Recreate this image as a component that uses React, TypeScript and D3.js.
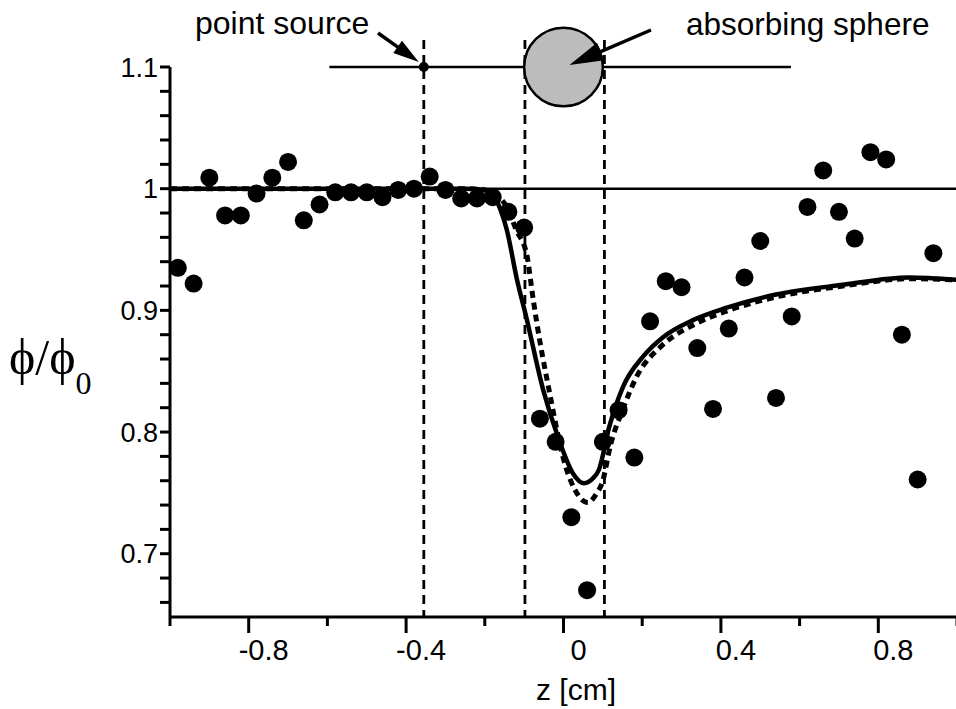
import React, { useEffect, useRef } from "react";
import * as d3 from "d3";

// measured points (z in cm, phi/phi0)
const zData = [
  -0.98, -0.94, -0.9, -0.86, -0.82, -0.78, -0.74, -0.7, -0.66, -0.62, -0.58, -0.54, -0.5,
  -0.46, -0.42, -0.38, -0.34, -0.3, -0.26, -0.22, -0.18, -0.14, -0.1, -0.06, -0.02, 0.02,
  0.06, 0.1, 0.14, 0.18, 0.22, 0.26, 0.3, 0.34, 0.38, 0.42, 0.46, 0.5, 0.54, 0.58, 0.62,
  0.66, 0.7, 0.74, 0.78, 0.82, 0.86, 0.9, 0.94,
];
const phiData = [
  0.935, 0.922, 1.009, 0.978, 0.978, 0.996, 1.009, 1.022, 0.974, 0.987, 0.997, 0.997, 0.997,
  0.993, 0.999, 1.0, 1.01, 0.999, 0.992, 0.992, 0.993, 0.981, 0.968, 0.811, 0.792, 0.73,
  0.67, 0.792, 0.818, 0.779, 0.891, 0.924, 0.919, 0.869, 0.819, 0.885, 0.927, 0.957, 0.828,
  0.895, 0.985, 1.015, 0.981, 0.959, 1.03, 1.024, 0.88, 0.761, 0.947,
];

// theory, solid
const solidZ = [
  -1, -0.5, -0.25, -0.2, -0.17, -0.144, -0.118, -0.095, -0.052, -0.012, 0.024, 0.052, 0.075,
  0.09, 0.116, 0.151, 0.202, 0.253, 0.329, 0.413, 0.54, 0.71, 0.878, 1,
];
const solidPhi = [
  1, 1, 1, 0.999, 0.99, 0.966, 0.925, 0.895, 0.835, 0.794, 0.766, 0.758, 0.762, 0.769, 0.804,
  0.837, 0.862, 0.878, 0.892, 0.902, 0.913, 0.921, 0.927, 0.925,
];

// theory, dashed
const dashZ = [
  -1, -0.5, -0.25, -0.2, -0.15, -0.12, -0.093, -0.077, -0.068, -0.037, 0.006, 0.03, 0.062,
  0.085, 0.098, 0.12, 0.15, 0.185, 0.25, 0.33, 0.42, 0.54, 0.71, 0.88, 1,
];
const dashPhi = [
  1, 1, 1, 0.999, 0.988, 0.966, 0.945, 0.909, 0.89, 0.835, 0.771, 0.752, 0.742, 0.75, 0.758,
  0.79, 0.818, 0.845, 0.871, 0.888, 0.9, 0.911, 0.92, 0.926, 0.925,
];

const xTicks = [-1, -0.8, -0.6, -0.4, -0.2, 0, 0.2, 0.4, 0.6, 0.8, 1];
const xLabels = [-0.8, -0.4, 0, 0.4, 0.8];
const yTicks = [
  0.66, 0.68, 0.7, 0.72, 0.74, 0.76, 0.78, 0.8, 0.82, 0.84, 0.86, 0.88, 0.9, 0.92, 0.94, 0.96,
  0.98, 1, 1.02, 1.04, 1.06, 1.08, 1.1,
];
const yLabels = [0.7, 0.8, 0.9, 1, 1.1];

// geometry of the sketch on top
const pointSourceZ = -0.355;
const sphereZ = 0;
const sphereRadius = 0.1;
const guideZ = [pointSourceZ, -0.098, 0.104];
const rodZ = [-0.595, 0.578];

const FONT = "Liberation Sans, Arial, Helvetica, sans-serif";

const App = () => {
  const ref = useRef<SVGSVGElement>(null);

  useEffect(() => {
    const svg = d3.select(ref.current);
    svg.selectAll("*").remove();

    const x = d3.scaleLinear().domain([-1, 1]).range([170, 957]);
    const y = d3.scaleLinear().domain([0.648, 1.1]).range([617, 67]);
    const top = y(1.1);

    // reference line at 1
    svg.append("line")
      .attr("x1", x(-1)).attr("x2", x(1))
      .attr("y1", y(1)).attr("y2", y(1))
      .attr("stroke", "#000").attr("stroke-width", 2.5);

    // vertical guides
    svg.selectAll(".guide")
      .data(guideZ)
      .join("line")
      .attr("class", "guide")
      .attr("x1", (d) => x(d)).attr("x2", (d) => x(d))
      .attr("y1", 40).attr("y2", y(0.648))
      .attr("stroke", "#000").attr("stroke-width", 2.8)
      .attr("stroke-dasharray", "9,6");

    const line = d3.line<[number, number]>()
      .x((d) => x(d[0]))
      .y((d) => y(d[1]))
      .curve(d3.curveMonotoneX);

    svg.append("path")
      .attr("d", line(dashZ.map((z, i) => [z, dashPhi[i]]) as [number, number][]))
      .attr("fill", "none").attr("stroke", "#000").attr("stroke-width", 5)
      .attr("stroke-dasharray", "7,5");

    svg.append("path")
      .attr("d", line(solidZ.map((z, i) => [z, solidPhi[i]]) as [number, number][]))
      .attr("fill", "none").attr("stroke", "#000").attr("stroke-width", 4.5);

    svg.selectAll(".dot")
      .data(zData.map((z, i) => [z, phiData[i]]))
      .join("circle")
      .attr("class", "dot")
      .attr("cx", (d) => x(d[0]))
      .attr("cy", (d) => y(d[1]))
      .attr("r", 9)
      .attr("fill", "#000");

    // axes
    svg.append("line")
      .attr("x1", x(-1)).attr("x2", x(1))
      .attr("y1", y(0.648)).attr("y2", y(0.648))
      .attr("stroke", "#000").attr("stroke-width", 3);
    svg.append("line")
      .attr("x1", x(-1)).attr("x2", x(-1))
      .attr("y1", top).attr("y2", y(0.648))
      .attr("stroke", "#000").attr("stroke-width", 3);

    svg.selectAll(".xtick")
      .data(xTicks)
      .join("line")
      .attr("class", "xtick")
      .attr("x1", (d) => x(d)).attr("x2", (d) => x(d))
      .attr("y1", y(0.648))
      .attr("y2", (d) => y(0.648) + (xLabels.includes(d) ? 16 : 9))
      .attr("stroke", "#000").attr("stroke-width", 3);

    svg.selectAll(".xlabel")
      .data(xLabels)
      .join("text")
      .attr("class", "xlabel")
      .attr("x", (d) => x(d) + 15)
      .attr("y", 660)
      .attr("text-anchor", "middle")
      .attr("font-family", FONT).attr("font-size", 29)
      .text((d) => String(d));

    svg.selectAll(".ytick")
      .data(yTicks)
      .join("line")
      .attr("class", "ytick")
      .attr("x1", x(-1) - 10).attr("x2", x(-1))
      .attr("y1", (d) => y(d)).attr("y2", (d) => y(d))
      .attr("stroke", "#000").attr("stroke-width", 3);

    svg.selectAll(".ylabel")
      .data(yLabels)
      .join("text")
      .attr("class", "ylabel")
      .attr("x", 158)
      .attr("y", (d) => y(d))
      .attr("dy", "0.36em")
      .attr("text-anchor", "end")
      .attr("font-family", FONT).attr("font-size", 27)
      .text((d) => String(d));

    svg.append("text")
      .attr("x", 576).attr("y", 700)
      .attr("text-anchor", "middle")
      .attr("font-family", FONT).attr("font-size", 30)
      .text("z [cm]");

    const yl = svg.append("text")
      .attr("x", 9).attr("y", 374)
      .attr("font-family", "Liberation Serif, DejaVu Serif, Times New Roman, serif")
      .attr("font-size", 50);
    yl.append("tspan").text("\u03D5/\u03D5");
    yl.append("tspan").attr("font-size", 32).attr("dy", 20).text("0");

    // sketch: rod, source, sphere
    svg.append("line")
      .attr("x1", x(rodZ[0])).attr("x2", x(rodZ[1]))
      .attr("y1", top).attr("y2", top)
      .attr("stroke", "#000").attr("stroke-width", 2.5);

    svg.append("circle")
      .attr("cx", x(pointSourceZ)).attr("cy", top).attr("r", 5).attr("fill", "#000");

    svg.append("circle")
      .attr("cx", x(sphereZ)).attr("cy", top)
      .attr("r", x(sphereRadius) - x(0))
      .attr("fill", "#bcbcbc").attr("stroke", "#000").attr("stroke-width", 2.5);

    const arrow = (x0: number, y0: number, x1: number, y1: number, len: number, wid: number) => {
      const dx = x1 - x0, dy = y1 - y0;
      const L = Math.hypot(dx, dy);
      const ux = dx / L, uy = dy / L;
      const bx = x1 - ux * len, by = y1 - uy * len;
      svg.append("line")
        .attr("x1", x0).attr("y1", y0).attr("x2", bx + ux * 2).attr("y2", by + uy * 2)
        .attr("stroke", "#000").attr("stroke-width", 3.5);
      svg.append("polygon")
        .attr("points", [
          [x1, y1],
          [bx - uy * wid / 2, by + ux * wid / 2],
          [bx + uy * wid / 2, by - ux * wid / 2],
        ].map((p) => p.join(",")).join(" "))
        .attr("fill", "#000");
    };

    arrow(378, 33, x(pointSourceZ) - 5, top - 5, 26, 15);
    arrow(651, 30, x(sphereZ) + 6, top - 2, 34, 19);

    svg.append("text")
      .attr("x", 195).attr("y", 34)
      .attr("font-family", FONT).attr("font-size", 32)
      .text("point source");
    svg.append("text")
      .attr("x", 686).attr("y", 35)
      .attr("font-family", FONT).attr("font-size", 31.5)
      .text("absorbing sphere");
  }, []);

  return (
    <svg
      ref={ref}
      width={956}
      height={709}
      style={{ position: "absolute", left: 0, top: 0, background: "#fff" }}
    />
  );
};

export default App;
